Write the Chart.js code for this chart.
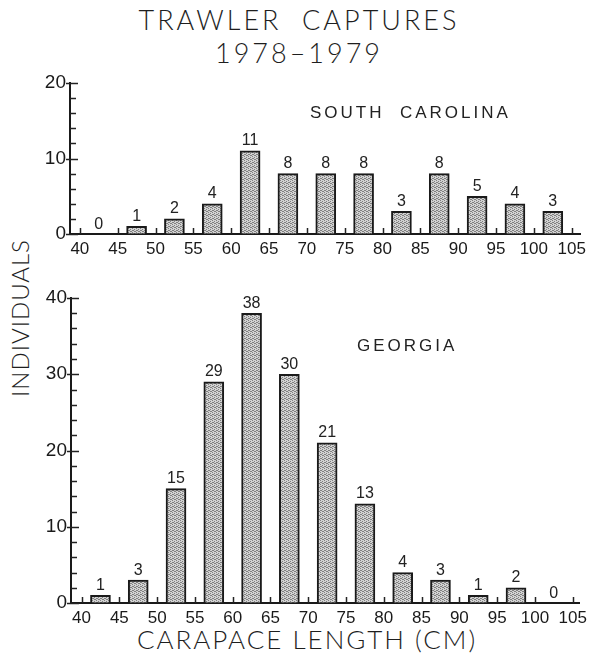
<!DOCTYPE html>
<html>
<head>
<meta charset="utf-8">
<script src="https://cdn.jsdelivr.net/npm/chart.js@4.4.1/dist/chart.umd.min.js"></script>
<style>
  html, body { margin: 0; padding: 0; background: #fff; }
  #page { position: relative; width: 592px; height: 664px; overflow: hidden; font-family: "Liberation Sans", Arial, sans-serif; color: #222; }
  .lettering { position: absolute; font-family: "Lato", "DejaVu Sans", sans-serif; font-weight: 300; color: #1e1e1e; white-space: pre; }
  #title1 { left: 0; width: 598px; top: 3px; text-align: center; font-size: 27px; letter-spacing: 3px; }
  #title2 { left: 0; width: 598px; top: 36px; text-align: center; font-size: 27px; letter-spacing: 3px; }
  #ylabel { left: 19px; top: 318px; font-size: 24px; letter-spacing: 1px; transform: translate(-50%, -50%) rotate(-90deg); }
  #xlabel { left: 0; width: 614px; top: 623px; text-align: center; font-size: 26px; letter-spacing: 2px; }
  .panel { position: absolute; font-family: "Liberation Sans", Arial, sans-serif; font-size: 17px; letter-spacing: 3px; color: #222; white-space: pre; }
  #scName { left: 310px; top: 103px; }
  #gaName { left: 357px; top: 336px; }
  #topWrap { position: absolute; left: 0; top: 60px; width: 592px; height: 200px; }
  #botWrap { position: absolute; left: 0; top: 280px; width: 592px; height: 350px; }
</style>
</head>
<body>
<div id="page">
  <div id="title1" class="lettering">TRAWLER  CAPTURES</div>
  <div id="title2" class="lettering">1978–1979</div>
  <div id="ylabel" class="lettering">INDIVIDUALS</div>
  <div id="xlabel" class="lettering">CARAPACE LENGTH (CM)</div>
  <div id="topWrap"><canvas id="scChart"></canvas></div>
  <div id="botWrap"><canvas id="gaChart"></canvas></div>
  <div id="scName" class="panel">SOUTH  CAROLINA</div>
  <div id="gaName" class="panel">GEORGIA</div>
</div>
<script>
// --- Data ---
// bin centres (cm), bins are 40-45, 45-50, ... 100-105
const binCentres = [42.5, 47.5, 52.5, 57.5, 62.5, 67.5, 72.5, 77.5, 82.5, 87.5, 92.5, 97.5, 102.5];
const southCarolina = [0, 1, 2, 4, 11, 8, 8, 8, 3, 8, 5, 4, 3];
const georgia = [1, 3, 15, 29, 38, 30, 21, 13, 4, 3, 1, 2, 0];
const xTickValues = [40, 45, 50, 55, 60, 65, 70, 75, 80, 85, 90, 95, 100, 105];
const scYTicks = [0, 10, 20];
const gaYTicks = [0, 10, 20, 30, 40];

// --- Stipple fill like the printed screen tone ---
function stipple() {
    const c = document.createElement('canvas');
    c.width = 4; c.height = 4;
    const g = c.getContext('2d');
    g.fillStyle = '#d2d2d2';
    g.fillRect(0, 0, 4, 4);
    g.fillStyle = '#808080';
    // scattered dots so it reads as a screen, not as stripes
    [[0,0],[2,1],[1,2],[3,3],[2,3],[0,2]].forEach(p => g.fillRect(p[0], p[1], 1, 1));
    return g.createPattern(c, 'repeat');
}
const tone = stipple();

// --- Inside ticks + value labels ---
const inkPlugin = {
    id: 'ink',
    afterDatasetsDraw(chart) {
        const ctx = chart.ctx;
        const x = chart.scales.x, y = chart.scales.y;
        ctx.save();
        ctx.strokeStyle = '#222';
        ctx.lineWidth = 1.5;
        // y ticks, minor every 2
        for (let v = 0; v <= y.max; v += 2) {
            const py = Math.round(y.getPixelForValue(v)) + 0.5;
            const major = v % 10 === 0;
            ctx.beginPath();
            ctx.moveTo(x.left - (major ? 4 : 0), py);
            ctx.lineTo(x.left + (major ? 8 : 6), py);
            ctx.stroke();
        }
        // x ticks at bin edges, pointing up
        xTickValues.forEach(v => {
            const px = Math.round(x.getPixelForValue(v)) + 0.5;
            ctx.beginPath();
            ctx.moveTo(px, y.bottom);
            ctx.lineTo(px, y.bottom - 6);
            ctx.stroke();
        });
        // value labels
        ctx.fillStyle = '#222';
        ctx.font = '16px "Liberation Sans", Arial, sans-serif';
        ctx.textAlign = 'center';
        ctx.textBaseline = 'bottom';
        const ds = chart.data.datasets[0].data;
        chart.getDatasetMeta(0).data.forEach((bar, i) => {
            const val = ds[i].y;
            ctx.fillText(String(val), bar.x, bar.y - (val === 0 ? 1 : 2));
        });
        ctx.restore();
    }
};

function makeChart(id, values, yMax, yTicks, xMin, xMax, pad, xHeight, yWidth) {
    const data = binCentres.map((c, i) => ({ x: c, y: values[i] }));
    return new Chart(document.getElementById(id), {
        type: 'bar',
        data: {
            datasets: [{
                data: data,
                backgroundColor: tone,
                borderColor: '#1a1a1a',
                borderWidth: 2,
                borderSkipped: 'bottom',
                barThickness: 20
            }]
        },
        options: {
            responsive: true,
            maintainAspectRatio: false,
            animation: false,
            layout: { padding: pad },
            plugins: { legend: { display: false }, tooltip: { enabled: false } },
            scales: {
                x: {
                    type: 'linear',
                    min: xMin,
                    max: xMax,
                    offset: false,
                    afterBuildTicks: s => { s.ticks = xTickValues.map(v => ({ value: v })); },
                    afterFit: s => { s.height = xHeight; },
                    grid: { display: true, color: 'rgba(0,0,0,0)', drawTicks: false },
                    border: { display: true, color: '#1a1a1a', width: 2 },
                    ticks: {
                        padding: 5,
                        color: '#1a1a1a',
                        autoSkip: false,
                        maxRotation: 0,
                        font: { family: '"Liberation Sans", Arial, sans-serif', size: 17 }
                    }
                },
                y: {
                    min: 0,
                    max: yMax,
                    afterBuildTicks: s => { s.ticks = yTicks.map(v => ({ value: v })); },
                    afterFit: s => { s.width = yWidth; },
                    grid: { display: true, color: 'rgba(0,0,0,0)', drawTicks: false },
                    border: { display: true, color: '#1a1a1a', width: 2 },
                    ticks: {
                        padding: 4,
                        color: '#1a1a1a',
                        font: { family: '"Liberation Sans", Arial, sans-serif', size: 19 }
                    }
                }
            }
        },
        plugins: [inkPlugin]
    });
}

makeChart('scChart', southCarolina, 20, scYTicks, 38.7, 106.1, { left: 0, right: 12, top: 23, bottom: 0 }, 26, 70);
makeChart('gaChart', georgia, 40, gaYTicks, 38.6, 105.9, { left: 0, right: 10, top: 18, bottom: 0 }, 27, 71);
</script>
</body>
</html>
